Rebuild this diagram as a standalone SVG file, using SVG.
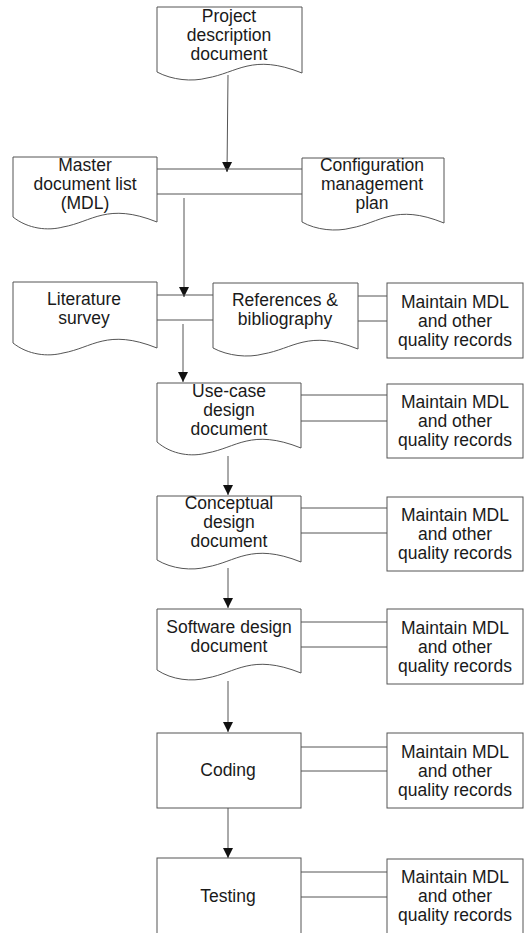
<svg xmlns="http://www.w3.org/2000/svg" width="524" height="933" viewBox="0 0 524 933">
<defs>
<marker id="ah" markerUnits="userSpaceOnUse" markerWidth="12" markerHeight="12" viewBox="0 0 12 12" refX="10" refY="6" orient="auto">
<path d="M0,1 L10,6 L0,11 Z" fill="#111"/>
</marker>
<style>
.shape{fill:#fff;stroke:#555;stroke-width:1}
.ln{fill:none;stroke:#555;stroke-width:1}
.arr{fill:none;stroke:#555;stroke-width:1;marker-end:url(#ah)}
text{font-family:"Liberation Sans",Arial,sans-serif;font-size:17.5px;fill:#1a1a1a;text-anchor:middle}
</style>
</defs>
<rect width="524" height="933" fill="#fff"/>
<g id="connectors">
<line class="arr" x1="228" y1="75" x2="227" y2="172"/>
<line class="ln" x1="157" y1="169" x2="302" y2="169"/>
<line class="ln" x1="157" y1="194" x2="302" y2="194"/>
<line class="arr" x1="184" y1="198" x2="184" y2="297"/>
<line class="ln" x1="157" y1="295" x2="213" y2="295"/>
<line class="ln" x1="157" y1="320" x2="213" y2="320"/>
<line class="arr" x1="183" y1="324" x2="183" y2="382"/>
<line class="ln" x1="358" y1="296" x2="387" y2="296"/>
<line class="ln" x1="358" y1="321" x2="387" y2="321"/>
<line class="ln" x1="301" y1="395" x2="387" y2="395"/>
<line class="ln" x1="301" y1="421" x2="387" y2="421"/>
<line class="arr" x1="228" y1="456" x2="228" y2="495"/>
<line class="ln" x1="301" y1="508" x2="387" y2="508"/>
<line class="ln" x1="301" y1="533" x2="387" y2="533"/>
<line class="arr" x1="228" y1="568" x2="228" y2="608"/>
<line class="ln" x1="301" y1="622" x2="387" y2="622"/>
<line class="ln" x1="301" y1="647" x2="387" y2="647"/>
<line class="arr" x1="228" y1="681" x2="228" y2="732"/>
<line class="ln" x1="301" y1="747" x2="387" y2="747"/>
<line class="ln" x1="301" y1="771" x2="387" y2="771"/>
<line class="arr" x1="228" y1="808" x2="228" y2="858"/>
<line class="ln" x1="301" y1="872" x2="387" y2="872"/>
<line class="ln" x1="301" y1="897" x2="387" y2="897"/>
</g>
<g id="project">
<path class="shape" d="M157,7 H302 V73 C252,53 237,73 207,78 C192,82 172,80 157,72 Z"/>
<text x="229" y="22">Project</text>
<text x="229" y="41">description</text>
<text x="229" y="60">document</text>
</g>
<g id="mdl">
<path class="shape" d="M13,157 H157 V222 C107,202 92,222 63,227 C48,231 28,229 13,217 Z"/>
<text x="85" y="171">Master</text>
<text x="85" y="190">document list</text>
<text x="85" y="209">(MDL)</text>
</g>
<g id="config">
<path class="shape" d="M302,158 H444 V223 C395,203 380,223 351,228 C336,232 316,230 302,222 Z"/>
<text x="372" y="171">Configuration</text>
<text x="372" y="190">management</text>
<text x="372" y="209">plan</text>
</g>
<g id="literature">
<path class="shape" d="M13,282 H157 V348 C107,328 92,348 63,353 C48,357 28,355 13,343 Z"/>
<text x="84" y="305">Literature</text>
<text x="84" y="324">survey</text>
</g>
<g id="references">
<path class="shape" d="M213,283 H358 V349 C308,329 293,349 263,354 C248,358 228,356 213,348 Z"/>
<text x="285" y="306">References &amp;</text>
<text x="285" y="325">bibliography</text>
</g>
<g id="usecase">
<path class="shape" d="M157,383 H301 V448 C251,428 236,448 207,453 C192,457 172,455 157,442 Z"/>
<text x="229" y="397">Use-case</text>
<text x="229" y="416">design</text>
<text x="229" y="435">document</text>
</g>
<g id="conceptual">
<path class="shape" d="M157,496 H301 V562 C251,542 236,562 207,567 C192,571 172,569 157,560 Z"/>
<text x="229" y="509">Conceptual</text>
<text x="229" y="528">design</text>
<text x="229" y="547">document</text>
</g>
<g id="software">
<path class="shape" d="M157,609 H301 V673 C251,653 236,673 207,678 C192,682 172,680 157,670 Z"/>
<text x="229" y="633">Software design</text>
<text x="229" y="652">document</text>
</g>
<g id="coding">
<rect class="shape" x="157" y="733" width="144" height="75"/>
<text x="228" y="776">Coding</text>
</g>
<g id="testing">
<rect class="shape" x="157" y="858" width="144" height="90"/>
<text x="228" y="902">Testing</text>
</g>
<g id="maintain1">
<rect class="shape" x="387" y="283" width="136" height="75"/>
<text x="455" y="308">Maintain MDL</text>
<text x="455" y="327">and other</text>
<text x="455" y="346">quality records</text>
</g>
<g id="maintain2">
<rect class="shape" x="387" y="384" width="136" height="74"/>
<text x="455" y="408">Maintain MDL</text>
<text x="455" y="427">and other</text>
<text x="455" y="446">quality records</text>
</g>
<g id="maintain3">
<rect class="shape" x="387" y="497" width="136" height="74"/>
<text x="455" y="521">Maintain MDL</text>
<text x="455" y="540">and other</text>
<text x="455" y="559">quality records</text>
</g>
<g id="maintain4">
<rect class="shape" x="387" y="609" width="136" height="75"/>
<text x="455" y="634">Maintain MDL</text>
<text x="455" y="653">and other</text>
<text x="455" y="672">quality records</text>
</g>
<g id="maintain5">
<rect class="shape" x="387" y="733" width="136" height="75"/>
<text x="455" y="758">Maintain MDL</text>
<text x="455" y="777">and other</text>
<text x="455" y="796">quality records</text>
</g>
<g id="maintain6">
<rect class="shape" x="387" y="859" width="136" height="90"/>
<text x="455" y="883">Maintain MDL</text>
<text x="455" y="902">and other</text>
<text x="455" y="921">quality records</text>
</g>
</svg>
